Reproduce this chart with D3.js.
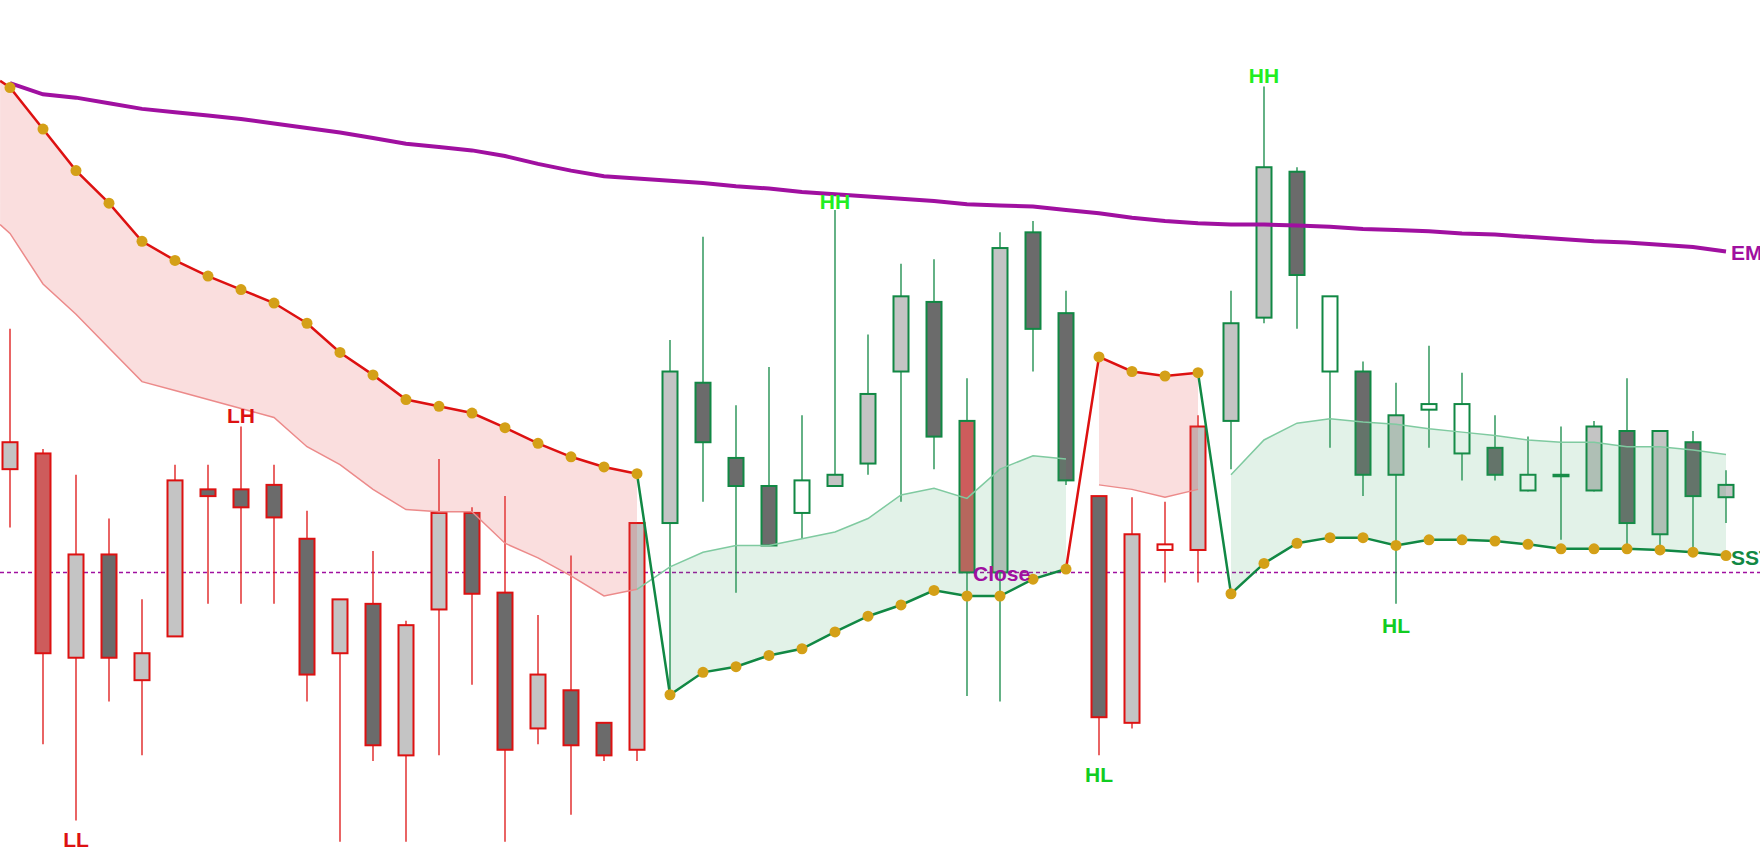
<!DOCTYPE html>
<html><head><meta charset="utf-8">
<script src="https://cdn.jsdelivr.net/npm/d3@7"></script>
<style>body{margin:0;background:#fff}svg{display:block}</style></head>
<body><svg id="c" width="1760" height="862"></svg>
<script>
const highs=[1707,1600,1577,1538,1466,1586,1586,1620,1586,1545,1466,1509,1447,1591,1548,1558,1452,1505,1356,1534,1697,1789,1639,1673,1630,1813,1702,1765,1769,1663,1793,1803,1741,1558,1557,1553,1630,1741,1923,1851,1736,1678,1659,1692,1668,1630,1611,1620,1625,1663,1616,1616,1581];
const lows=[1530,1337,1269,1375,1327,1433,1462,1462,1462,1375,1250,1322,1250,1327,1390,1250,1337,1274,1322,1322,1380,1553,1472,1514,1520,1577,1577,1553,1582,1380,1375,1669,1568,1327,1351,1481,1481,1582,1712,1707,1601,1558,1462,1601,1572,1572,1562,1519,1562,1509,1509,1510,1534];
const opens=[1582,1596,1414,1506,1394,1433,1564,1564,1568,1520,1418,1462,1327,1457,1543,1472,1351,1385,1356,1332,1534,1659,1592,1567,1543,1567,1587,1669,1731,1625,1490,1793,1721,1558,1356,1510,1510,1625,1717,1847,1669,1669,1577,1635,1596,1601,1563,1576,1563,1616,1524,1606,1557];
const closes=[1606,1418,1506,1414,1418,1572,1558,1548,1539,1399,1466,1336,1443,1543,1471,1332,1399,1336,1327,1534,1669,1606,1567,1514,1572,1577,1649,1736,1611,1490,1779,1707,1572,1361,1524,1515,1620,1712,1851,1755,1736,1577,1630,1640,1640,1577,1577,1577,1620,1534,1616,1558,1568];
const styles=["up","red","up","down","up","up","down","down","down","down","up","down","up","up","down","down","up","down","down","up","up","down","down","down","hollow","up","up","up","down","red","up","down","down","down","up","hollow","up","up","up","down","hollow","down","up","hollow","hollow","down","hollow","up","up","down","up","down","up"];
const ema=[1926,1916,1913,1908,1903,1900,1897,1894,1890,1886,1882,1877,1872,1869,1866,1861,1854,1848,1843,1841,1839,1837,1834,1832,1829,1827,1825,1823,1821,1818,1817,1816,1813,1810,1806,1803,1801,1800,1800,1799,1798,1796,1795,1794,1792,1791,1789,1787,1785,1784,1782,1780,1776];
const trailRed1=[1922,1885,1848,1819,1785,1768,1754,1742,1730,1712,1686,1666,1644,1638,1632,1619,1605,1593,1584,1578];
const bandRed1=[1792,1747,1720,1690,1660,1652,1644,1636,1628,1602,1586,1564,1546,1544,1544,1516,1503,1487,1469,1475];
const trailGreen1=[1381,1401,1406,1416,1422,1437,1451,1461,1474,1469,1469,1484,1493];
const bandGreen1=[1495,1508,1514,1514,1520,1526,1538,1559,1565,1556,1582,1594,1591];
const trailRed2=[1682,1669,1665,1668];
const bandRed2=[1568,1564,1557,1564];
const trailGreen2=[1471,1498,1516,1521,1521,1514,1519,1519,1518,1515,1511,1511,1511,1510,1508,1505];
const bandGreen2=[1577,1608,1623,1627,1624,1622,1618,1615,1612,1608,1606,1606,1602,1602,1599,1595];
const closePrice=1490;
const labels=[{t:"HH",i:25,p:1814,c:"#22ee22"},{t:"HH",i:38,p:1926,c:"#22ee22"},{t:"LH",i:7,p:1623,c:"#dd1111"},{t:"LL",i:2,p:1245,c:"#dd1111"},{t:"HL",i:33,p:1303,c:"#11cc22"},{t:"HL",i:42,p:1436,c:"#11cc22"}];

const RED="#dd1111",GREEN="#118844",GOLD="#d4a017",PURP="#a010a0";
const svg=d3.select("#c");
const x=d3.scaleLinear().domain([0,52]).range([10,1726]);
const y=d3.scaleLinear().domain([1232,2000]).range([862,0]);
const n=highs.length;
const segs=[
 {s:0,trail:trailRed1,band:bandRed1,col:RED,fill:"rgba(230,90,90,0.2)",bandCol:"#ec8a8a"},
 {s:20,trail:trailGreen1,band:bandGreen1,col:GREEN,fill:"rgba(60,170,100,0.15)",bandCol:"#7fcaa0"},
 {s:33,trail:trailRed2,band:bandRed2,col:RED,fill:"rgba(230,90,90,0.2)",bandCol:"#ec8a8a"},
 {s:37,trail:trailGreen2,band:bandGreen2,col:GREEN,fill:"rgba(60,170,100,0.15)",bandCol:"#7fcaa0"}];
function trendCol(i){let c=RED;segs.forEach(s=>{if(i>=s.s)c=s.col;});return c;}
svg.append("line").attr("x1",0).attr("x2",1760).attr("y1",y(closePrice)).attr("y2",y(closePrice))
 .attr("stroke",PURP).attr("stroke-width",1.5).attr("stroke-dasharray","4,3");
const bw=15;
for(let i=0;i<n;i++){
 const c=trendCol(i),cx=x(i);
 svg.append("line").attr("x1",cx).attr("x2",cx).attr("y1",y(highs[i])).attr("y2",y(lows[i])).attr("stroke",c).attr("stroke-width",1.3);
 const top=y(Math.max(opens[i],closes[i])),bot=y(Math.min(opens[i],closes[i]));
 const f={up:"#c4c4c4",down:"#6b6b6b",red:"#cd5c5c",hollow:"#ffffff"}[styles[i]];
 svg.append("rect").attr("x",cx-bw/2).attr("y",top).attr("width",bw).attr("height",Math.max(bot-top,1.5))
  .attr("fill",f).attr("stroke",c).attr("stroke-width",2);
}
segs.forEach((sg,k)=>{
 let pts=sg.trail.map((v,j)=>({i:sg.s+j,t:v,b:sg.band[j]}));
 if(k===0) pts=[{i:-0.3,t:1928,b:1800}].concat(pts);
 svg.append("path").datum(pts).attr("fill",sg.fill)
  .attr("d",d3.area().x(d=>x(d.i)).y0(d=>y(d.t)).y1(d=>y(d.b)));
 let bpts=pts.map(d=>({i:d.i,v:d.b}));
 if(k===1) bpts=[{i:19,v:bandRed1[19]}].concat(bpts);
 svg.append("path").datum(bpts).attr("fill","none").attr("stroke",sg.bandCol).attr("stroke-width",1.5)
  .attr("d",d3.line().x(d=>x(d.i)).y(d=>y(d.v)));
});
svg.append("path").datum(ema).attr("fill","none").attr("stroke",PURP).attr("stroke-width",4)
 .attr("d",d3.line().x((d,i)=>x(i)).y(d=>y(d)));
segs.forEach((sg,k)=>{
 let pts=sg.trail.map((v,j)=>({i:sg.s+j,v}));
 if(k>0){const p=segs[k-1];pts=[{i:sg.s-1,v:p.trail[p.trail.length-1]}].concat(pts);}
 else pts=[{i:-0.3,v:1928}].concat(pts);
 svg.append("path").datum(pts).attr("fill","none").attr("stroke",sg.col).attr("stroke-width",2.5)
  .attr("d",d3.line().x(d=>x(d.i)).y(d=>y(d.v)));
});
segs.forEach(sg=>sg.trail.forEach((v,j)=>{
 svg.append("circle").attr("cx",x(sg.s+j)).attr("cy",y(v)).attr("r",5.5).attr("fill",GOLD);
}));
const font="'Liberation Sans',Arial,sans-serif";
labels.forEach(l=>svg.append("text").attr("x",x(l.i)).attr("y",y(l.p)).attr("text-anchor","middle")
 .attr("font-family",font).attr("font-weight","bold").attr("font-size",21).attr("fill",l.c).text(l.t));
svg.append("text").attr("x",x(29)+6).attr("y",y(closePrice)+9).attr("font-family",font).attr("font-weight","bold")
 .attr("font-size",21).attr("fill",PURP).text("Close");
svg.append("text").attr("x",x(52)+5).attr("y",y(ema[52])+9).attr("font-family",font).attr("font-weight","bold")
 .attr("font-size",21).attr("fill",PURP).text("EMA");
svg.append("text").attr("x",x(52)+5).attr("y",y(trailGreen2[15])+9).attr("font-family",font).attr("font-weight","bold")
 .attr("font-size",21).attr("fill",GREEN).text("SST");
</script></body></html>
